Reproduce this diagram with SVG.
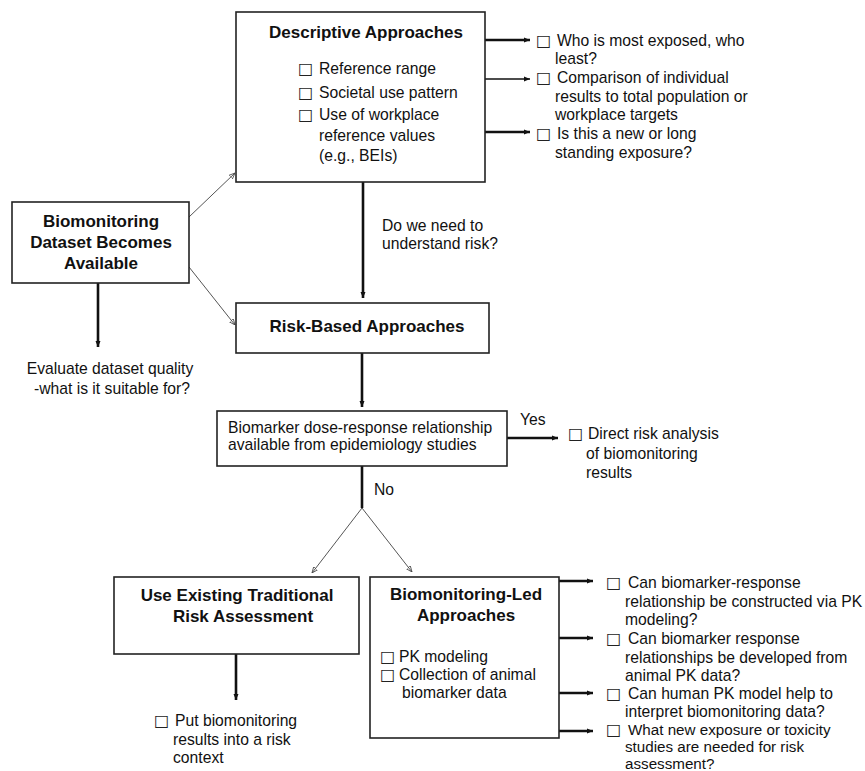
<svg xmlns="http://www.w3.org/2000/svg" width="865" height="771" viewBox="0 0 865 771">
<style>
text{font-family:"Liberation Sans",Arial,sans-serif;fill:#111;font-size:15.7px}
.b{font-weight:bold;font-size:17px}
.cb{font-family:"DejaVu Sans",sans-serif;font-size:16px;fill:#222}
.sm{font-size:15.2px}
.box{fill:#fff;stroke:#222;stroke-width:1.6}
.thick{stroke:#111;stroke-width:2.6;fill:none}
.med{stroke:#111;stroke-width:1.6;fill:none}
.thin{stroke:#555;stroke-width:1;fill:none}
</style>
<defs>
<marker id="ah" viewBox="0 0 6 6" refX="6" refY="3" markerWidth="6" markerHeight="6" markerUnits="userSpaceOnUse" orient="auto"><path d="M0,0.5 L6,3 L0,5.5 Z" fill="#111"/></marker>
<marker id="ahs" viewBox="0 0 6 6" refX="6" refY="3" markerWidth="6" markerHeight="6" markerUnits="userSpaceOnUse" orient="auto"><path d="M0,0.5 L6,3 L0,5.5 Z" fill="none" stroke="#444" stroke-width="0.8"/></marker>
</defs>

<g id="connectors">
<line class="thick" x1="485" y1="40" x2="530" y2="40" marker-end="url(#ah)"/>
<line class="med" x1="485" y1="79" x2="530" y2="79" marker-end="url(#ah)"/>
<line class="thick" x1="485" y1="132" x2="530" y2="132" marker-end="url(#ah)"/>
<line class="thick" x1="363" y1="182" x2="363" y2="298" marker-end="url(#ah)"/>
<line class="thin" x1="189" y1="217" x2="235" y2="173" marker-end="url(#ahs)"/>
<line class="thin" x1="189" y1="267" x2="235" y2="325" marker-end="url(#ahs)"/>
<line class="thick" x1="98" y1="283" x2="98" y2="347" marker-end="url(#ah)"/>
<line class="thick" x1="362" y1="353" x2="362" y2="407" marker-end="url(#ah)"/>
<line class="thick" x1="507" y1="438" x2="558" y2="438" marker-end="url(#ah)"/>
<line class="thick" x1="362" y1="466" x2="362" y2="508"/>
<line class="thin" x1="362" y1="508" x2="312" y2="573" marker-end="url(#ahs)"/>
<line class="thin" x1="362" y1="508" x2="412" y2="572" marker-end="url(#ahs)"/>
<line class="thick" x1="236" y1="654" x2="236" y2="700" marker-end="url(#ah)"/>
<line class="thick" x1="559" y1="581" x2="593" y2="581" marker-end="url(#ah)"/>
<line class="thick" x1="559" y1="638" x2="593" y2="638" marker-end="url(#ah)"/>
<line class="thick" x1="559" y1="693" x2="593" y2="693" marker-end="url(#ah)"/>
<line class="thick" x1="559" y1="731" x2="593" y2="731" marker-end="url(#ah)"/>
</g>

<g id="descriptive">
<rect class="box" x="236" y="12" width="249" height="170"/>
<text class="b" x="366" y="38" text-anchor="middle">Descriptive Approaches</text>
<text><tspan class="cb" x="298" y="74">□</tspan><tspan x="319" y="74">Reference range</tspan></text>
<text><tspan class="cb" x="298" y="98">□</tspan><tspan x="319" y="98">Societal use pattern</tspan></text>
<text><tspan class="cb" x="298" y="120">□</tspan><tspan x="319" y="120">Use of workplace</tspan><tspan x="319" y="141">reference values</tspan><tspan x="319" y="161">(e.g., BEIs)</tspan></text>
</g>

<g id="descriptive-questions">
<text><tspan class="cb" x="536" y="46">□</tspan><tspan x="557" y="46">Who is most exposed, who</tspan><tspan x="555" y="64">least?</tspan></text>
<text><tspan class="cb" x="536" y="83">□</tspan><tspan x="557" y="83">Comparison of individual</tspan><tspan x="555" y="102">results to total population or</tspan><tspan x="555" y="120">workplace targets</tspan></text>
<text><tspan class="cb" x="536" y="139">□</tspan><tspan x="557" y="139">Is this a new or long</tspan><tspan x="555" y="158">standing exposure?</tspan></text>
</g>

<g id="dataset">
<rect class="box" x="12" y="202" width="177" height="81"/>
<text class="b" text-anchor="middle"><tspan x="101" y="227">Biomonitoring</tspan><tspan x="101" y="248">Dataset Becomes</tspan><tspan x="101" y="269">Available</tspan></text>
</g>

<g id="evaluate">
<text text-anchor="middle"><tspan x="110" y="374">Evaluate dataset quality</tspan><tspan x="112" y="394">-what is it suitable for?</tspan></text>
</g>

<g id="need-risk">
<text><tspan x="382" y="231">Do we need to</tspan><tspan x="382" y="249">understand risk?</tspan></text>
</g>

<g id="risk-based">
<rect class="box" x="236" y="303" width="253" height="50"/>
<text class="b" x="367" y="332" text-anchor="middle">Risk-Based Approaches</text>
</g>

<g id="biomarker">
<rect class="box" x="217" y="411" width="290" height="55"/>
<text><tspan x="228" y="433">Biomarker dose-response relationship</tspan><tspan x="228" y="450">available from epidemiology studies</tspan></text>
</g>

<g id="yes-no">
<text x="520" y="425">Yes</text>
<text x="374" y="495">No</text>
</g>

<g id="direct">
<text><tspan class="cb" x="568" y="439">□</tspan><tspan x="588" y="439">Direct risk analysis</tspan><tspan x="586" y="459">of biomonitoring</tspan><tspan x="586" y="478">results</tspan></text>
</g>

<g id="traditional">
<rect class="box" x="114" y="577" width="245" height="77"/>
<text class="b" text-anchor="middle"><tspan x="237" y="601">Use Existing Traditional</tspan><tspan x="243" y="622">Risk Assessment</tspan></text>
</g>

<g id="put-context">
<text><tspan class="cb" x="154" y="726">□</tspan><tspan x="175" y="726">Put biomonitoring</tspan><tspan x="173" y="745">results into a risk</tspan><tspan x="173" y="763">context</tspan></text>
</g>

<g id="bio-led">
<rect class="box" x="370" y="577" width="189" height="161"/>
<text class="b" text-anchor="middle"><tspan x="466" y="600">Biomonitoring-Led</tspan><tspan x="466" y="621">Approaches</tspan></text>
<text><tspan class="cb" x="380" y="662">□</tspan><tspan x="399" y="662">PK modeling</tspan></text>
<text><tspan class="cb" x="380" y="680">□</tspan><tspan x="399" y="680">Collection of animal</tspan><tspan x="402" y="698">biomarker data</tspan></text>
</g>

<g id="bio-led-questions">
<text><tspan class="cb" x="606" y="588">□</tspan><tspan x="628" y="588">Can biomarker-response</tspan><tspan x="625" y="607">relationship be constructed via PK</tspan><tspan x="625" y="625">modeling?</tspan></text>
<text><tspan class="cb" x="606" y="644">□</tspan><tspan x="628" y="644">Can biomarker  response</tspan><tspan x="625" y="663">relationships be developed from</tspan><tspan x="625" y="681">animal PK data?</tspan></text>
<text><tspan class="cb" x="606" y="699">□</tspan><tspan x="628" y="699">Can human PK model help to</tspan><tspan x="625" y="717">interpret biomonitoring data?</tspan></text>
<text class="sm"><tspan class="cb" x="606" y="735">□</tspan><tspan x="628" y="735">What new exposure or toxicity</tspan><tspan x="625" y="752">studies are needed for risk</tspan><tspan x="625" y="769">assessment?</tspan></text>
</g>
</svg>
